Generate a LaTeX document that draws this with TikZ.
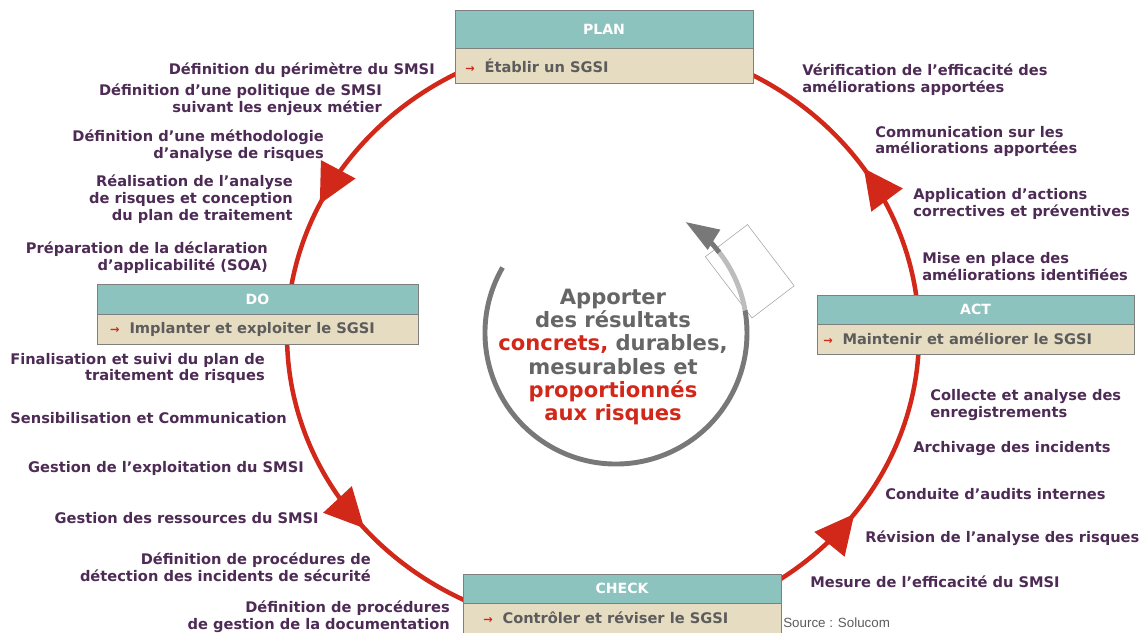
\documentclass[tikz,border=0pt]{standalone}
\usepackage{fontspec}
\setmainfont{DejaVu Sans}
\newfontfamily\sourcefont{Liberation Sans}
\usetikzlibrary{arrows.meta,decorations.markings,positioning}

\definecolor{cyclered}{HTML}{D2281A}
\definecolor{labelpurple}{HTML}{4D2B55}
\definecolor{headteal}{HTML}{8CC3BF}
\definecolor{bodybeige}{HTML}{E6DCC1}
\definecolor{boxgray}{HTML}{7F7F7F}
\definecolor{bodygray}{HTML}{5C5C5C}
\definecolor{goalgray}{HTML}{666666}
\definecolor{ringgray}{HTML}{787878}
\definecolor{ringlight}{HTML}{BDBDBD}

\newcommand{\redarrow}{\textcolor{cyclered}{\fontsize{8}{8}\selectfont →}\hspace{7pt}}

\tikzset{
  steplabel/.style={font=\bfseries\fontsize{10.4}{12}\selectfont, text=labelpurple, inner sep=0pt},
  leftlabel/.style={steplabel, anchor=east, align=right},
  rightlabel/.style={steplabel, anchor=west, align=left},
  phasehead/.style={draw=boxgray, fill=headteal, text=white, outer sep=0pt,
    font=\bfseries\fontsize{10}{12}\selectfont},
  phasebody/.style={draw=boxgray, fill=bodybeige, outer sep=0pt},
  phasetext/.style={anchor=west, inner sep=0pt, text=bodygray,
    font=\bfseries\fontsize{10.4}{12}\selectfont},
  cycleline/.style={draw=cyclered, line width=3.2pt, postaction={decorate},
    decoration={markings,
      mark=at position 0.093 with {\arrow{Triangle[length=28pt,width=27pt]}},
      mark=at position 0.429 with {\arrow{Triangle[length=28pt,width=27pt]}},
      mark=at position 0.611 with {\arrow{Triangle[length=28pt,width=27pt]}},
      mark=at position 0.899 with {\arrow{Triangle[length=28pt,width=27pt]}}}},
}

\begin{document}
\begin{tikzpicture}[x=0.025cm, y=0.025cm]
  \useasboundingbox (0,0) rectangle (1141,-632);

  % PDCA cycle
  \coordinate (ctr) at (603,-335);
  \draw[cycleline] (ctr) ellipse [x radius=316, y radius=295];

  % phases
  \node[phasehead, minimum width=7.45cm, minimum height=0.95cm] (plan) at (604,-29) {PLAN};
  \node[phasebody, minimum width=7.45cm, minimum height=0.875cm, below=0pt of plan] (planbody) {};
  \node[phasetext] (plantext) at ([xshift=0.25cm]planbody.west) {\redarrow Établir un SGSI};

  \node[phasehead, minimum width=8.025cm, minimum height=0.75cm] (do) at (257.5,-299) {DO};
  \node[phasebody, minimum width=8.025cm, minimum height=0.75cm, below=0pt of do] (dobody) {};
  \node[phasetext] (dotext) at ([xshift=0.325cm]dobody.west) {\redarrow Implanter et exploiter le SGSI};

  \node[phasehead, minimum width=7.925cm, minimum height=0.725cm] (act) at (975.5,-309.5) {ACT};
  \node[phasebody, minimum width=7.925cm, minimum height=0.75cm, below=0pt of act] (actbody) {};
  \node[phasetext] (acttext) at ([xshift=0.15cm]actbody.west) {\redarrow Maintenir et améliorer le SGSI};

  \node[phasehead, minimum width=7.95cm, minimum height=0.725cm] (check) at (622,-588.5) {CHECK};
  \node[phasebody, minimum width=7.95cm, minimum height=0.75cm, below=0pt of check] (checkbody) {};
  \node[phasetext] (checktext) at ([xshift=0.5cm]checkbody.west) {\redarrow Contrôler et réviser le SGSI};

  % plan steps
  \node[leftlabel] (plan1) at (435,-70) {Définition du périmètre du SMSI};
  \node[leftlabel] (plan2) at (382,-100) {Définition d’une politique de SMSI\\suivant les enjeux métier};
  \node[leftlabel] (plan3) at (324,-145.5) {Définition d’une méthodologie\\d’analyse de risques};
  \node[leftlabel] (plan4) at (293,-199) {Réalisation de l’analyse\\de risques et conception\\du plan de traitement};
  \node[leftlabel] (plan5) at (268,-258) {Préparation de la déclaration\\d’applicabilité (SOA)};

  % do steps
  \node[leftlabel] (do1) at (265,-368.5) {Finalisation et suivi du plan de\\traitement de risques};
  \node[leftlabel] (do2) at (287,-418) {Sensibilisation et Communication};
  \node[leftlabel] (do3) at (304,-468) {Gestion de l’exploitation du SMSI};
  \node[leftlabel] (do4) at (319,-518) {Gestion des ressources du SMSI};
  \node[leftlabel] (do5) at (371,-567) {Définition de procédures de\\détection des incidents de sécurité};
  \node[leftlabel] (do6) at (450,-616.5) {Définition de procédures\\de gestion de la documentation};

  % check steps
  \node[rightlabel] (check1) at (810,-582) {Mesure de l’efficacité du SMSI};
  \node[rightlabel] (check2) at (865,-538) {Révision de l’analyse des risques};
  \node[rightlabel] (check3) at (885,-494) {Conduite d’audits internes};
  \node[rightlabel] (check4) at (913,-449) {Archivage des incidents};
  \node[rightlabel] (check5) at (930,-405) {Collecte et analyse des\\enregistrements};

  % act steps
  \node[rightlabel] (act1) at (922,-266.5) {Mise en place des\\améliorations identifiées};
  \node[rightlabel] (act2) at (913,-204) {Application d’actions\\correctives et préventives};
  \node[rightlabel] (act3) at (875,-141.5) {Communication sur les\\améliorations apportées};
  \node[rightlabel] (act4) at (802,-80) {Vérification de l’efficacité des\\améliorations apportées};

  % centre: ring and goal
  \node[draw=boxgray!70, fill=white, thin, rotate=37.3, minimum width=1.325cm, minimum height=1.925cm] (sheet) at (749.75,-271.25) {};
  \coordinate (ring) at (616,-333);
  \draw[ringgray, line width=3.5pt] ([shift={(150:131)}]ring) arc [start angle=150, end angle=370, radius=131];
  \draw[ringlight, line width=3.5pt] ([shift={(370:131)}]ring) arc [start angle=370, end angle=399, radius=131];
  \draw[ringgray, line width=3.5pt, -{Triangle[length=24pt,width=16pt]}] ([shift={(398:131)}]ring) arc [start angle=398, end angle=418, radius=131];
  \node[font=\bfseries\fontsize{15}{16.5}\selectfont, text=goalgray, align=center] (goal) at (613,-357)
    {Apporter\\des résultats\\\textcolor{cyclered}{concrets,} durables,\\mesurables et\\\textcolor{cyclered}{proportionnés}\\\textcolor{cyclered}{aux risques}};

  \node[anchor=west, inner sep=0pt, text=bodygray, font=\sourcefont\fontsize{9.5}{11}\selectfont] (source) at (783,-623) {Source : Solucom};
\end{tikzpicture}
\end{document}
